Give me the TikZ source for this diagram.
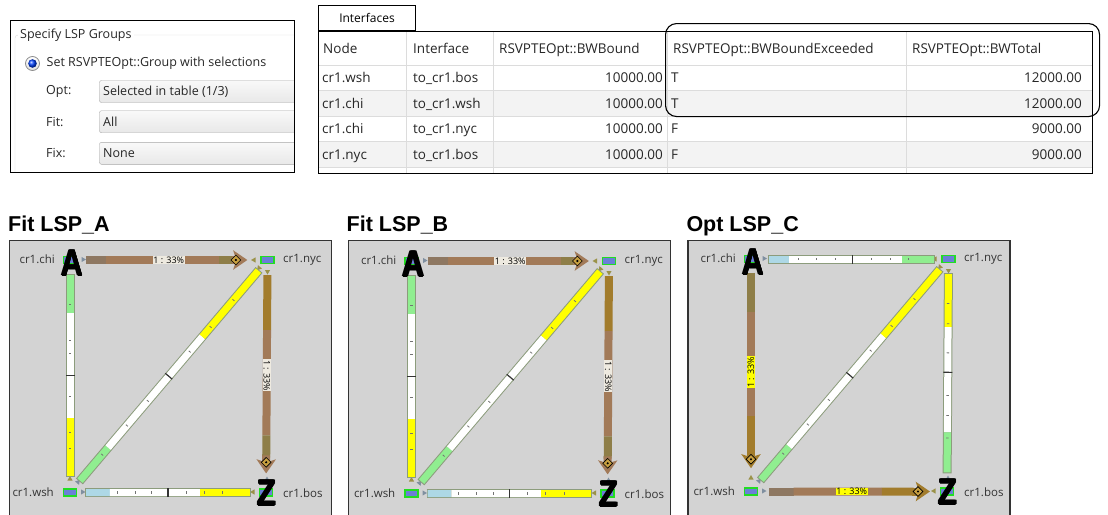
\documentclass[tikz,border=0pt]{standalone}
\usepackage{fontspec}
\setmainfont{Open Sans}
\newfontfamily\titlefont{Liberation Sans}
\usetikzlibrary{arrows.meta, calc, shapes.geometric}

\definecolor{mapbg}{HTML}{D3D3D3}
\definecolor{lspbrown}{HTML}{A27A58}
\definecolor{lspolive}{HTML}{8E7E48}
\definecolor{lspgold}{HTML}{A27C2C}
\definecolor{lspgray}{HTML}{8E7862}
\definecolor{lkgreen}{HTML}{90EE90}
\definecolor{lkblue}{HTML}{ADD8E6}
\definecolor{lkyellow}{HTML}{FFFF00}
\definecolor{lkedge}{HTML}{8C9C7C}
\definecolor{nodeblue}{HTML}{6B7FD7}
\definecolor{nodegreen}{HTML}{22DD22}
\definecolor{gridgray}{HTML}{DCDCDC}
\definecolor{rowgray}{HTML}{F3F3F3}
\definecolor{labelbg}{HTML}{EEEAE0}
\definecolor{tipgold}{HTML}{C8A040}
\definecolor{trigray}{HTML}{7F8FA0}
\definecolor{triolive}{HTML}{9A9248}

\begin{document}
\begin{tikzpicture}[x=1pt, y=-1pt,
    uitext/.style={font=\fontsize{12.5}{15}\selectfont, text=black!85, inner sep=0pt},
    cell/.style={font=\fontsize{13.5}{16}\selectfont, text=black!85, inner sep=0pt},
    gridline/.style={draw=gridgray, line width=0.8pt},
    combo/.style={draw=gray!70, rounded corners=2pt, top color=gray!5, bottom color=gray!18, minimum width=215pt, minimum height=22pt, inner sep=0pt, anchor=west},
    mapframe/.style={draw=black!80, line width=1.2pt, fill=mapbg, minimum width=322pt, minimum height=290pt, anchor=north west, inner sep=0pt},
    maptitle/.style={font=\titlefont\bfseries\fontsize{21.5}{24}\selectfont, inner sep=0pt, anchor=base west},
    router/.style={draw=nodegreen, line width=1.5pt, fill=nodeblue, minimum width=13pt, minimum height=7pt, inner sep=0pt},
    rlabel/.style={font=\fontsize{11.5}{13}\selectfont, text=black!80, inner sep=0pt},
    endpoint/.style={font=\titlefont\bfseries\fontsize{37}{37}\selectfont, inner sep=0pt},
    barframe/.style={draw=lkedge, line width=9pt, shorten <=-1pt, shorten >=-1pt},
    seg/.style={draw=#1, line width=7pt},
    lsp/.style={draw=#1, line width=8pt},
    lsphead/.style={-{Stealth[length=14pt, width=19pt, inset=3pt]}},
    lsplabel/.style={font=\fontsize{9}{10}\selectfont, fill=#1, inner sep=0.6pt, text=black},
    lsplabel/.default=labelbg,
    divider/.style={fill=black!80, minimum width=1.2pt, minimum height=9pt, inner sep=0pt, sloped},
    tick/.style={fill=black!55, minimum width=0.8pt, minimum height=2.5pt, inner sep=0pt, sloped},
    tipmark/.style={diamond, draw=black, fill=tipgold, line width=0.6pt, minimum size=10pt, inner sep=0pt,
        path picture={\fill[black] (path picture bounding box.center) circle (1.2pt);}},
    tri/.style={regular polygon, regular polygon sides=3, fill=#1, minimum size=6pt, inner sep=0pt}
]
\useasboundingbox (0,0) rectangle (1108,514);

% LSP group settings
\begin{scope}
    \clip (10,20) rectangle (294,172);
    \draw[gray!30, rounded corners=3pt] (15,180) -- (15,35) -- (300,35);
    \node[uitext, fill=white, inner xsep=2pt, anchor=west] (grptitle) at (18,35) {Specify LSP Groups};
    \node[circle, draw=gray!90, line width=0.8pt, top color=white, bottom color=gray!25, minimum size=14pt, inner sep=0pt] (radio) at (32.5,63.5) {};
    \shade[ball color=blue!75!cyan] (radio.center) circle (4.3pt);
    \node[uitext, anchor=west] (setsel) at (46.5,63.5) {Set RSVPTEOpt::Group with selections};
    \foreach \y/\lbl/\val/\nm in {91.5/Opt:/Selected in table (1\slash 3)/opt, 121.7/Fit:/All/fit, 153.3/Fix:/None/fix} {
        \node[uitext, anchor=west] (\nm lbl) at (46,\y) {\lbl};
        \node[combo] (\nm box) at (99.3,\y) {};
        \node[uitext, anchor=west] (\nm val) at (103,\y) {\val};
    }
\end{scope}
\node[draw, line width=1pt, minimum width=284pt, minimum height=152pt, inner sep=0pt, anchor=north west] (groups) at (10,20) {};

% interfaces table
\fill[rowgray] (318,90.7) rectangle (1092,116.3);
\fill[rowgray] (318,141.7) rectangle (1092,167.3);
\foreach \y in {65,90.7,116.3,141.7,167.3}
    \draw[gridline] (318,\y) -- (1092,\y);
\foreach \x in {406.7,493,667,906.7}
    \draw[gridline] (\x,31) -- (\x,173);
\draw[line width=1pt] (318,31) rectangle (1092,173);
\node[draw, line width=1pt, fill=white, minimum width=97pt, minimum height=25pt, inner sep=0pt,
    font=\fontsize{12}{14}\selectfont, anchor=south west] (tabiface) at (318,31) {Interfaces};
\foreach \x/\t/\nm in {323/Node/hnode, 413/Interface/hiface, 499/RSVPTEOpt::BWBound/hbound,
        673/RSVPTEOpt::BWBoundExceeded/hexceed, 912/RSVPTEOpt::BWTotal/htotal}
    \node[cell, anchor=base west] (\nm) at (\x,53.5) {\t};
\foreach \y/\nd/\itf/\ex/\tot [count=\k] in {82.5/cr1.wsh/to\_cr1.bos/T/12000.00,
        108/cr1.chi/to\_cr1.wsh/T/12000.00, 133.5/cr1.chi/to\_cr1.nyc/F/9000.00,
        159/cr1.nyc/to\_cr1.bos/F/9000.00} {
    \node[cell, anchor=base west] (node\k) at (322,\y) {\nd};
    \node[cell, anchor=base west] (iface\k) at (413,\y) {\itf};
    \node[cell, anchor=base east] (bound\k) at (663,\y) {10000.00};
    \node[cell, anchor=base west] (exceed\k) at (671,\y) {\ex};
    \node[cell, anchor=base east] (total\k) at (1082,\y) {\tot};
}
\node[draw, line width=1.1pt, rounded corners=11pt, minimum width=434pt, minimum height=93pt,
    inner sep=0pt, anchor=north west] (overbound) at (665,23) {};

% the three network maps
\foreach \fx/\cx/\cy/\ttl/\id in {0/0/0/Fit LSP\_A/a, 338.5/341.5/1/Fit LSP\_B/b, 678.3/681/-1/Opt LSP\_C/c} {
    \node[mapframe] (map\id) at (9+\fx,240) {};
    \node[maptitle] (title\id) at (8+\fx,231) {\ttl};
    \begin{scope}[shift={(\cx,\cy)}]
        \node[router] (chi\id) at (70,260) {};
        \node[router] (nyc\id) at (267.5,260) {};
        \node[router] (wsh\id) at (70,492.5) {};
        \node[router] (bos\id) at (266,492.5) {};
        \node[rlabel, anchor=east] (lchi\id) at (55,259.5) {cr1.chi};
        \node[rlabel, anchor=west] (lnyc\id) at (283,260) {cr1.nyc};
        \node[rlabel, anchor=east] (lwsh\id) at (54,492.5) {cr1.wsh};
        \node[rlabel, anchor=west] (lbos\id) at (283,493) {cr1.bos};
        \foreach \px/\py/\r/\clr [count=\k] in {83/259.5/-90/trigray, 254/260/90/triolive,
                267.5/271.5/180/triolive, 259/268/140/triolive, 70/479/0/triolive,
                78/482/-40/trigray, 82.5/492/-90/trigray, 253/492/90/triolive, 267/479.5/0/trigray}
            \node[tri=\clr, shape border rotate=\r] (tri\id\k) at (\px,\py) {};
    \end{scope}
    % wsh -- nyc
    \draw[barframe] ($(wsh\id)!0.051!(nyc\id)$) -- ($(wsh\id)!0.954!(nyc\id)$);
    \foreach \s/\e/\clr in {0.051/0.193/lkgreen, 0.193/0.67/white, 0.67/0.954/lkyellow}
        \draw[seg=\clr] ($(wsh\id)!\s!(nyc\id)$) -- ($(wsh\id)!\e!(nyc\id)$);
    \path (wsh\id) -- (nyc\id) node[pos=0.5, divider] (dwn\id) {};
    \foreach \f [count=\k] in {0.15,0.28,0.39,0.61,0.72,0.84}
        \path (wsh\id) -- (nyc\id) node[pos=\f, tick] (twn\id\k) {};
}

% LSP_A and LSP_B: chi -> nyc -> bos
\foreach \id in {a,b} {
    \foreach \s/\e/\clr in {0.081/0.183/lspgray, 0.183/0.756/lspbrown, 0.756/0.83/lspolive}
        \draw[lsp=\clr] ($(chi\id)!\s!(nyc\id)$) -- ($(chi\id)!\e!(nyc\id)$);
    \draw[lsp=lspbrown, lsphead] ($(chi\id)!0.82!(nyc\id)$) -- ($(chi\id)!0.898!(nyc\id)$);
    \path (chi\id) -- (nyc\id) node[pos=0.5, lsplabel] (lcn\id) {1 : 33\%}
        node[pos=0.867, tipmark] (mcn\id) {};
    \foreach \s/\e/\clr in {0.065/0.302/lspgold, 0.302/0.754/lspbrown, 0.754/0.85/lspolive}
        \draw[lsp=\clr] ($(nyc\id)!\s!(bos\id)$) -- ($(nyc\id)!\e!(bos\id)$);
    \draw[lsp=lspbrown, lsphead] ($(nyc\id)!0.84!(bos\id)$) -- ($(nyc\id)!0.918!(bos\id)$);
    \path (nyc\id) -- (bos\id) node[pos=0.496, lsplabel, rotate=-90] (lnb\id) {1 : 33\%}
        node[pos=0.884, tipmark] (mnb\id) {};
    % chi -- wsh
    \draw[barframe] ($(chi\id)!0.065!(wsh\id)$) -- ($(chi\id)!0.927!(wsh\id)$);
    \foreach \s/\e/\clr in {0.065/0.228/lkgreen, 0.228/0.681/white, 0.681/0.927/lkyellow}
        \draw[seg=\clr] ($(chi\id)!\s!(wsh\id)$) -- ($(chi\id)!\e!(wsh\id)$);
    \path (chi\id) -- (wsh\id) node[pos=0.496, divider] (dcw\id) {};
    \foreach \f [count=\k] in {0.18,0.34,0.4,0.59,0.75,0.82}
        \path (chi\id) -- (wsh\id) node[pos=\f, tick] (tcw\id\k) {};
    % wsh -- bos
    \draw[barframe] ($(wsh\id)!0.082!(bos\id)$) -- ($(wsh\id)!0.918!(bos\id)$);
    \foreach \s/\e/\clr in {0.082/0.204/lkblue, 0.204/0.663/white, 0.663/0.918/lkyellow}
        \draw[seg=\clr] ($(wsh\id)!\s!(bos\id)$) -- ($(wsh\id)!\e!(bos\id)$);
    \path (wsh\id) -- (bos\id) node[pos=0.5, divider] (dwb\id) {};
    \foreach \f [count=\k] in {0.22,0.32,0.41,0.6,0.7,0.8}
        \path (wsh\id) -- (bos\id) node[pos=\f, tick] (twb\id\k) {};
}

% LSP_C: chi -> wsh -> bos
\draw[barframe] ($(chic)!0.091!(nycc)$) -- ($(chic)!0.927!(nycc)$);
\foreach \s/\e/\clr in {0.091/0.193/lkblue, 0.193/0.766/white, 0.766/0.927/lkgreen}
    \draw[seg=\clr] ($(chic)!\s!(nycc)$) -- ($(chic)!\e!(nycc)$);
\path (chic) -- (nycc) node[pos=0.513, divider] (dcnc) {};
\foreach \f [count=\k] in {0.22,0.32,0.42,0.62,0.72,0.82}
    \path (chic) -- (nycc) node[pos=\f, tick] (tcnc\k) {};
\draw[barframe] ($(nycc)!0.065!(bosc)$) -- ($(nycc)!0.918!(bosc)$);
\foreach \s/\e/\clr in {0.065/0.293/lkyellow, 0.293/0.746/white, 0.746/0.918/lkgreen}
    \draw[seg=\clr] ($(nycc)!\s!(bosc)$) -- ($(nycc)!\e!(bosc)$);
\path (nycc) -- (bosc) node[pos=0.487, divider] (dnbc) {};
\foreach \f [count=\k] in {0.18,0.27,0.4,0.59,0.68,0.78}
    \path (nycc) -- (bosc) node[pos=\f, tick] (tnbc\k) {};
\foreach \s/\e/\clr in {0.06/0.228/lspolive, 0.228/0.677/lspbrown, 0.677/0.83/lspgold}
    \draw[lsp=\clr] ($(chic)!\s!(wshc)$) -- ($(chic)!\e!(wshc)$);
\draw[lsp=lspgold, lsphead] ($(chic)!0.82!(wshc)$) -- ($(chic)!0.90!(wshc)$);
\path (chic) -- (wshc) node[pos=0.487, lsplabel=lkyellow, rotate=90] (lcwc) {1 : 33\%}
    node[pos=0.875, tipmark] (mcwc) {};
\foreach \s/\e/\clr in {0.092/0.218/lspgray, 0.218/0.668/lspbrown, 0.668/0.83/lspgold}
    \draw[lsp=\clr] ($(wshc)!\s!(bosc)$) -- ($(wshc)!\e!(bosc)$);
\draw[lsp=lspgold, lsphead] ($(wshc)!0.82!(bosc)$) -- ($(wshc)!0.913!(bosc)$);
\path (wshc) -- (bosc) node[pos=0.515, lsplabel=lkyellow] (lwbc) {1 : 33\%}
    node[pos=0.88, tipmark] (mwbc) {};

% end point letters, set several times over for a heavy stroke
\foreach \id in {a,b,c}
    \foreach \dx/\dy [count=\k] in {-0.9/0, 0.9/0, 0/-0.6, 0/0.6, 0/0} {
        \node[endpoint] (enda\id\k) at ([shift={(2+\dx,3+\dy)}]chi\id) {\scalebox{0.82}[1]{A}};
        \node[endpoint] (endz\id\k) at ([shift={(1+\dx,0.5+\dy)}]bos\id) {\scalebox{0.82}[1]{Z}};
    }
\end{tikzpicture}
\end{document}
